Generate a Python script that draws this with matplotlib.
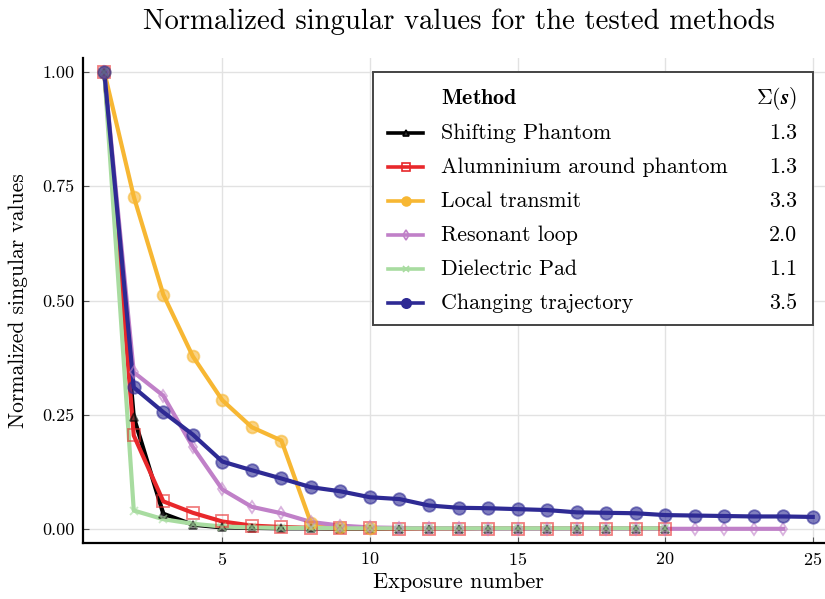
import numpy as np
import matplotlib.pyplot as plt
from matplotlib.lines import Line2D
from matplotlib.patches import Rectangle

plt.rcParams['font.family'] = 'cmr10'
plt.rcParams['mathtext.fontset'] = 'cm'
plt.rcParams['axes.formatter.use_mathtext'] = True

methods = ['Shifting Phantom', 'Alumninium around phantom', 'Local transmit',
           'Resonant loop', 'Dielectric Pad', 'Changing trajectory']
sigma_sum = ['1.3', '1.3', '3.3', '2.0', '1.1', '3.5']

shifting = [1.0, 0.245, 0.034, 0.010, 0.004, 0.003, 0.002, 0.002, 0.001, 0.001,
            0.001, 0.001, 0.001, 0.001, 0.001, 0.001, 0.001, 0.001, 0.001, 0.001]
aluminium = [1.0, 0.205, 0.061, 0.036, 0.017, 0.008, 0.005, 0.003, 0.002, 0.002,
             0.001, 0.001, 0.001, 0.001, 0.001, 0.001, 0.001, 0.001, 0.001, 0.001]
local_tx = [1.0, 0.727, 0.513, 0.378, 0.282, 0.223, 0.194, 0.014, 0.006, 0.003]
resonant = [1.0, 0.343, 0.292, 0.180, 0.087, 0.049, 0.035, 0.016, 0.008, 0.004,
            0.003, 0.002, 0.002, 0.001, 0.001, 0.001, 0.001, 0.001, 0.001, 0.001,
            0.001, 0.001, 0.001, 0.001]
dielectric = [1.0, 0.041, 0.022, 0.012, 0.006, 0.004, 0.003, 0.003, 0.002, 0.002,
              0.002, 0.002, 0.002, 0.002, 0.002, 0.002, 0.002, 0.002, 0.002, 0.002]
trajectory = [1.0, 0.310, 0.256, 0.207, 0.148, 0.129, 0.111, 0.092, 0.083, 0.070,
              0.066, 0.052, 0.047, 0.046, 0.044, 0.042, 0.037, 0.036, 0.035, 0.031,
              0.030, 0.029, 0.028, 0.028, 0.027]

series = [shifting, aluminium, local_tx, resonant, dielectric, trajectory]
colors = ['#000000', '#e8282b', '#f7b733', '#c080c8', '#a8dca0', '#2e2a94']
markers = ['^', 's', 'o', 'd', 'x', 'o']
msizes = [6, 8, 8.5, 6.5, 6, 9]
faces = ['#333333', 'none', None, 'none', None, None]

W, H = 825, 599
fig = plt.figure(figsize=(W / 100, H / 100), dpi=100)
ax = fig.add_axes([83 / W, 56 / H, 751 / W, 485 / H])

for vals, c, m, ms, fc in zip(series, colors, markers, msizes, faces):
    x = np.arange(1, len(vals) + 1)
    face = c if fc is None else fc
    ax.plot(x, vals, color=c, lw=3.0, zorder=2)
    ax.plot(x, vals, ls='none', marker=m, ms=ms, mfc=face, mec=c, mew=1.3,
            alpha=0.6, zorder=3)

ax.set_xlim(0.28, 25.72)
ax.set_ylim(-0.03, 1.03)
ax.set_xticks([5, 10, 15, 20, 25])
ax.set_yticks([0, 0.25, 0.5, 0.75, 1.0])
ax.set_yticklabels(['0.00', '0.25', '0.50', '0.75', '1.00'])
ax.grid(color='#e2e2e2', lw=1.0)
ax.set_axisbelow(True)
for side in ['top', 'right']:
    ax.spines[side].set_visible(False)
for side in ['left', 'bottom']:
    ax.spines[side].set_linewidth(1.6)
ax.tick_params(direction='in', length=4, width=0.8, color='#555555',
               labelsize=13, pad=6)

ax.set_xlabel('Exposure number', fontsize=16, labelpad=3)
ax.set_ylabel('Normalized singular values', fontsize=15.5, labelpad=10)
fig.text(459 / W, 1 - 22 / H, 'Normalized singular values for the tested methods',
         fontsize=20.7, ha='center', va='center')

# legend table: box, header row, one row per method with its sum
def fx(px):
    return px / W

def fy(py):
    return 1 - py / H

fig.add_artist(Rectangle((fx(373), fy(325)), fx(813) - fx(373), fy(72) - fy(325),
                         transform=fig.transFigure, fill=True, facecolor='white',
                         edgecolor='#444444', lw=1.4, zorder=5))
fig.text(fx(441), fy(98), r'$\mathbf{Method}$', fontsize=15.8, va='center', zorder=6)
fig.text(fx(797), fy(98), r'$\boldsymbol{\Sigma(s)}$', fontsize=15.8,
         ha='right', va='center', zorder=6)
for i, (name, val, c, m, ms, fc) in enumerate(zip(methods, sigma_sum, colors,
                                                   markers, msizes, faces)):
    yy = fy(133 + 34 * i)
    face = c if fc is None else fc
    fig.add_artist(Line2D([fx(388), fx(405.5), fx(423)], [yy, yy, yy],
                          transform=fig.transFigure, color=c, lw=2.6,
                          marker=m, markevery=[1], ms=ms * 0.75, mfc=face,
                          mec=c, mew=1.2, zorder=6))
    fig.text(fx(441), yy, name, fontsize=15.8, va='center', zorder=6)
    fig.text(fx(797), yy, val, fontsize=15.8, ha='right', va='center', zorder=6)

fig.savefig('out.png', dpi=100)
